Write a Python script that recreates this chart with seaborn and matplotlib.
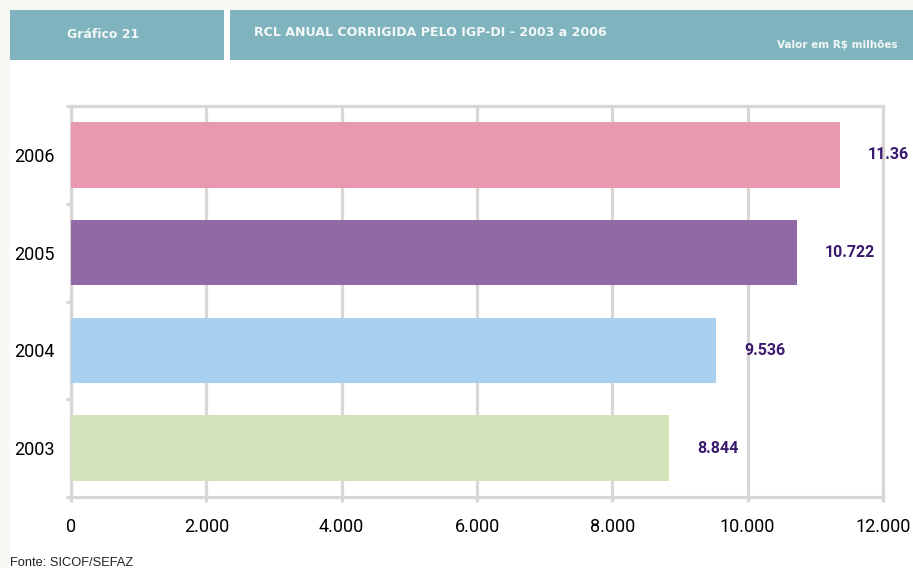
import matplotlib
matplotlib.use("Agg")
import matplotlib.pyplot as plt
from matplotlib.patches import Rectangle
from matplotlib.ticker import FuncFormatter
import seaborn as sns
import pandas as pd

years = ["2006", "2005", "2004", "2003"]
values = [11360, 10722, 9536, 8844]
value_labels = ["11.36", "10.722", "9.536", "8.844"]
colors = ["#e899b0", "#9069a5", "#aad0ef", "#d3e4bb"]
xticks = [0, 2000, 4000, 6000, 8000, 10000, 12000]

sns.set_theme(style="white")
plt.rcParams["font.family"] = ["Roboto", "DejaVu Sans"]

W, H = 913, 568
fig = plt.figure(figsize=(W / 100, H / 100), dpi=100, facecolor="#f6f9f1")

def px(x, y, w, h):
    return (x / W, 1 - (y + h) / H, w / W, h / H)

# white page area
fig.patches.append(Rectangle((10 / W, 0), 1, 1 - 10 / H, transform=fig.transFigure,
                             facecolor="white", edgecolor="none", zorder=-2))
# header boxes
for (x0, x1) in [(10, 224), (230, 913)]:
    fig.patches.append(Rectangle((x0 / W, 1 - 60 / H), (x1 - x0) / W, 50 / H,
                                 transform=fig.transFigure, facecolor="#7fb3bd",
                                 edgecolor="none", zorder=-1))
hc = "#f2f7f7"
hf = ["DejaVu Sans"]
fig.text(67 / W, 1 - 35 / H, "Gráfico 21", color=hc, fontsize=9, fontweight="bold",
         ha="left", va="center", family=hf)
fig.text(254 / W, 1 - 33 / H, "RCL ANUAL CORRIGIDA PELO IGP-DI - 2003 a 2006", color=hc,
         fontsize=9.1, fontweight="bold", ha="left", va="center", family=hf)
fig.text(898 / W, 1 - 45 / H, "Valor em R$ milhões", color=hc, fontsize=7.5,
         fontweight="bold", ha="right", va="center", family=hf)
fig.text(10 / W, 1 - 563 / H, "Fonte: SICOF/SEFAZ", color="#222222", fontsize=9.3,
         family=["Liberation Sans"], ha="left", va="center")

ax = fig.add_axes(px(71, 106, 812, 391))
ax.set_zorder(2)
ax.set_facecolor("none")
df = pd.DataFrame({"year": years, "value": values})
sns.barplot(data=df, x="value", y="year", hue="year", order=years, hue_order=years,
            palette=colors, orient="h", width=0.67, legend=False, ax=ax, zorder=3,
            saturation=1, linewidth=0, edgecolor="none")

ax.set_xlim(0, 12000)
ax.set_ylim(3.5, -0.5)
ax.set_xlabel("")
ax.set_ylabel("")

gc = "#d9d6d3"
ax.set_xticks(xticks)
ax.xaxis.set_major_formatter(FuncFormatter(lambda v, p: f"{int(v):,}".replace(",", ".")))
ax.grid(axis="x", color=gc, linewidth=2.3, zorder=0)
ax.set_axisbelow(True)
ax.set_yticks([0, 1, 2, 3])
ax.set_yticks([-0.5, 0.5, 1.5, 2.5, 3.5], minor=True)
ax.tick_params(axis="y", which="major", length=0, pad=11.5, labelsize=13, labelcolor="black")
ax.tick_params(axis="y", which="minor", length=3.6, width=2.3, color=gc, direction="out")
ax.tick_params(axis="x", which="major", length=3.6, width=2.3, color=gc, direction="out",
               pad=11.5, labelsize=13, labelcolor="black")
ax.tick_params(left=True, bottom=True, which="both")
for s in ax.spines.values():
    s.set_visible(True)
    s.set_color(gc)
    s.set_linewidth(2.3)

for i, (v, lab) in enumerate(zip(values, value_labels)):
    ax.annotate(lab, (v, i), xytext=(28, 0), textcoords="offset pixels",
                ha="left", va="center", color="#3b1a6e", fontsize=11.5, fontweight="bold",
                annotation_clip=False)

fig.savefig("out.png", dpi=100, facecolor=fig.get_facecolor())
